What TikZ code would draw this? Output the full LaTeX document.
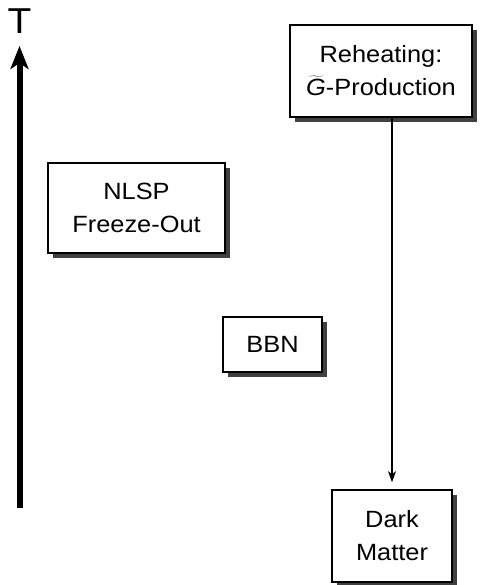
\documentclass[tikz,border=0pt]{standalone}
\usepackage{fontspec}
\setmainfont{Liberation Sans}[FakeStretch=1.08]
\usetikzlibrary{arrows.meta,shadows,positioning}

\begin{document}
\begin{tikzpicture}
		[x=1pt,y=1pt,
		 epoch/.style={draw, line width=1.6pt, fill=white, align=center,
		   font=\fontsize{23.5}{33}\selectfont, inner sep=0pt,
		   drop shadow={shadow xshift=5pt, shadow yshift=-5pt, fill=black!75, opacity=1}}]
		\useasboundingbox (0,0) rectangle (494,-585);
		
		\coordinate (tbot) at (19.5,-508);
		\coordinate (ttop) at (19.5,-46);
		\node[font=\fontsize{36}{36}\selectfont, inner sep=0pt] (T) at (19.5,-21) {T};
		
		\node[epoch, minimum width=182pt, minimum height=92pt] (reh) at (381,-71) {Reheating:\\$\widetilde{\hbox{\itshape G}}$-Production};
		\node[epoch, minimum width=177pt, minimum height=90pt] (nlsp) at (136.5,-208) {NLSP\\Freeze-Out};
		\node[epoch, minimum width=99pt, minimum height=55pt] (bbn) at (272.5,-344.5) {BBN};
		\node[epoch, minimum width=120pt, minimum height=92pt] (dm) at (392,-536) {Dark\\Matter};
		
		\draw[line width=6pt, -{Stealth[length=23pt,width=18pt,inset=6pt]}] (tbot) to (ttop);
		\draw[line width=1.3pt, shorten >=7pt, -{Stealth[length=11pt,width=8pt,inset=3pt]}] (dm.north |- reh.south) to (dm.north);
		
\end{tikzpicture}
\end{document}
